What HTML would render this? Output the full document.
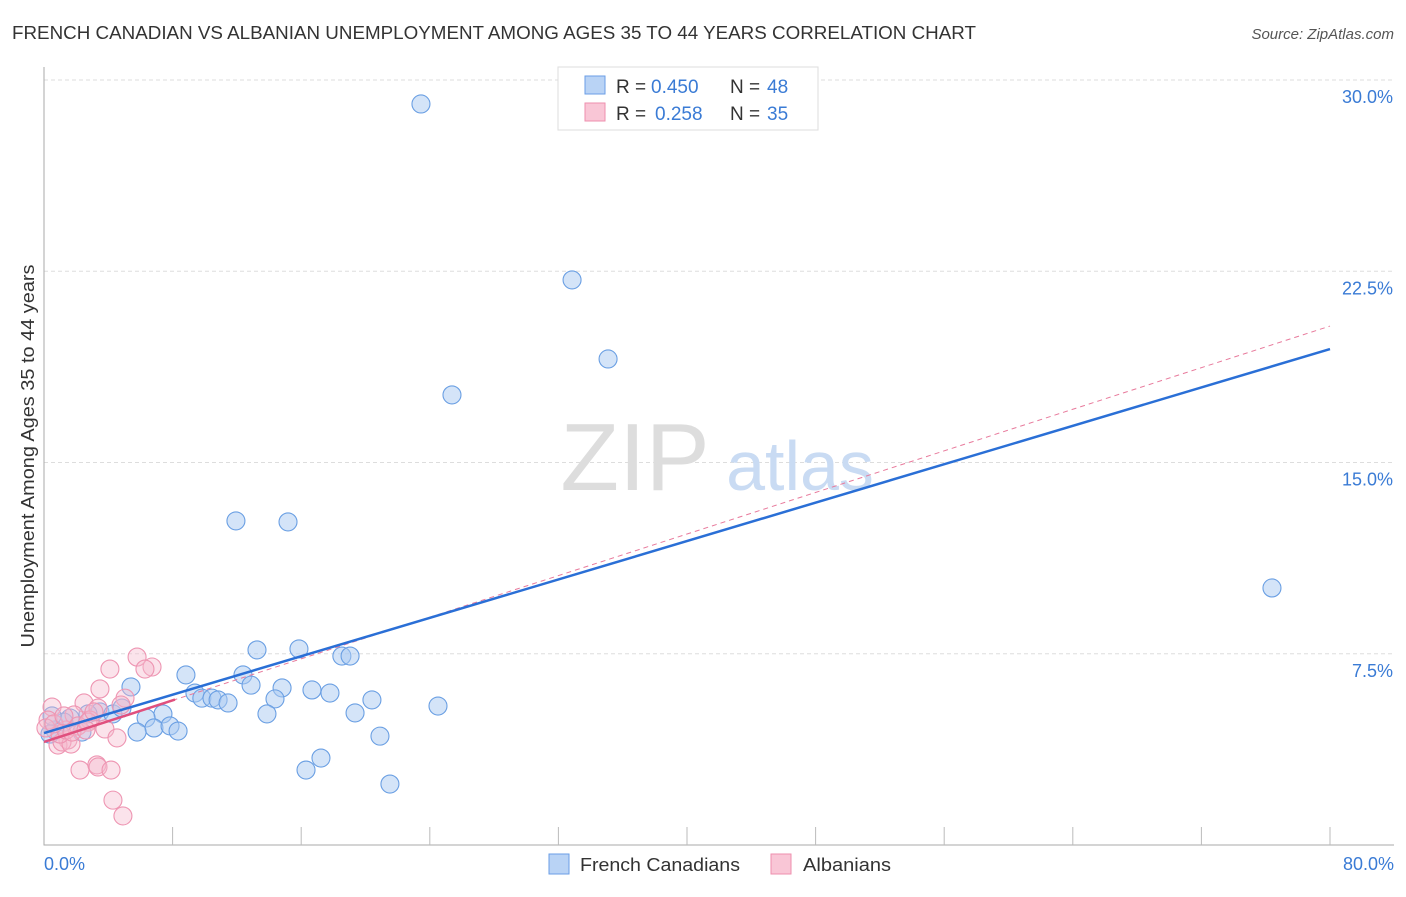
<!DOCTYPE html>
<html><head><meta charset="utf-8"><style>
body{margin:0;background:#fff;font-family:"Liberation Sans",sans-serif;}
svg text{font-family:"Liberation Sans",sans-serif;}
</style></head><body>
<svg width="1406" height="892" viewBox="0 0 1406 892">
<text x="12" y="39" font-size="18" fill="#333" textLength="964" lengthAdjust="spacingAndGlyphs">FRENCH CANADIAN VS ALBANIAN UNEMPLOYMENT AMONG AGES 35 TO 44 YEARS CORRELATION CHART</text>
<text x="1394" y="39" font-size="15" fill="#555" font-style="italic" text-anchor="end">Source: ZipAtlas.com</text>
<g id="grid"></g>
<text x="635" y="490" font-size="96" fill="#ddd" font-family="Liberation Serif" text-anchor="middle">ZIP</text>
<text x="800" y="490" font-size="70" fill="#c9dbf3" text-anchor="middle">atlas</text>
<g id="pts"></g>
<g id="lines"></g>
<text x="34" y="456" font-size="18" fill="#333" text-anchor="middle" textLength="383" lengthAdjust="spacingAndGlyphs" transform="rotate(-90 34 456)">Unemployment Among Ages 35 to 44 years</text>
<text x="44" y="870" font-size="18" fill="#3a7bd5">0.0%</text>
<text x="1394" y="870" font-size="18" fill="#3a7bd5" text-anchor="end">80.0%</text>
<g>
<rect x="558" y="67" width="260" height="63" fill="#fff" stroke="#ddd"/>
<rect x="585" y="76" width="20" height="18" fill="#b9d3f5" stroke="#6a9ee6"/>
<rect x="585" y="103" width="20" height="18" fill="#f9c6d6" stroke="#ee8fae"/>
<text y="93" font-size="19" fill="#333"><tspan x="616">R =</tspan><tspan x="651" fill="#3a7bd5">0.450</tspan><tspan x="730">N =</tspan><tspan x="767" fill="#3a7bd5">48</tspan></text>
<text y="120" font-size="19" fill="#333"><tspan x="616">R =</tspan><tspan x="655" fill="#3a7bd5">0.258</tspan><tspan x="730">N =</tspan><tspan x="767" fill="#3a7bd5">35</tspan></text>
</g>
<g><rect x="549" y="854" width="20" height="20" fill="#b9d3f5" stroke="#6a9ee6"/><text x="580" y="871" font-size="18" fill="#333" textLength="160" lengthAdjust="spacingAndGlyphs">French Canadians</text></g>
<g><rect x="771" y="854" width="20" height="20" fill="#f9c6d6" stroke="#ee8fae"/><text x="803" y="871" font-size="18" fill="#333" textLength="88" lengthAdjust="spacingAndGlyphs">Albanians</text></g>
</svg>
<script>
const yTicks=[7.5,15,22.5,30];
const xTicks=[0,8,16,24,32,40,48,56,64,72,80];
const blueX=[23.45,32.85,35.09,25.38,11.94,15.18,76.39,8.83,12.38,13.25,15.86,18.53,19.04,5.41,9.39,9.82,10.45,10.83,11.45,12.88,14.81,14.37,16.67,17.79,20.4,24.51,13.87,19.35,20.9,17.23,16.3,21.52,7.4,6.35,6.84,7.84,8.34,5.79,3.48,4.29,2.74,1.62,2.36,1.24,0.68,0.37,0.5,4.85];
const blueY=[29.06,22.16,19.06,17.65,12.71,12.67,10.08,6.67,6.67,7.65,7.69,7.41,7.41,6.2,5.96,5.76,5.76,5.69,5.57,6.27,6.16,5.73,6.08,5.96,5.69,5.45,5.14,5.18,4.27,3.41,2.94,2.39,5.14,4.98,4.59,4.67,4.47,4.43,5.22,5.14,5.14,4.98,4.43,4.82,4.51,4.35,5.06,5.37];
const pinkX=[5.79,6.72,6.28,4.1,3.48,5.04,2.49,4.79,0.5,3.36,1.87,2.86,3.79,4.54,1.49,0.87,1.12,1.68,2.24,3.29,3.36,4.17,4.29,4.91,0.25,0.12,1.0,1.37,2.12,2.74,3.11,0.62,1.74,1.24,2.61];
const pinkY=[7.37,6.98,6.9,6.9,6.12,5.76,5.57,5.49,5.41,5.37,5.1,4.9,4.55,4.2,4.12,3.92,4.04,3.96,2.94,3.14,3.06,2.94,1.76,1.14,4.9,4.59,4.35,4.51,4.67,4.82,5.22,4.75,4.43,5.06,4.51];
const blueTrend=[4.39,19.45];
const pinkTrend=[4.04,20.35];
const NS='http://www.w3.org/2000/svg';
const sx=v=>44+v*16.075, sy=v=>845-v*25.5;
function mk(t,a,p){const e=document.createElementNS(NS,t);for(const k in a)e.setAttribute(k,a[k]);document.getElementById(p).appendChild(e);return e;}
yTicks.forEach(v=>{
 const l=mk('line',{x1:44,x2:1394,y1:sy(v),y2:sy(v),stroke:'#ddd','stroke-dasharray':'4,3'},'grid');
 
 
 const t=mk('text',{x:1393,y:sy(v)+23,'font-size':18,fill:'#3a7bd5','text-anchor':'end'},'grid');t.textContent=v.toFixed(1)+'%';
 
 
});
const ax=mk('path',{d:'M44 67V845H1394',stroke:'#aaa',fill:'none'},'grid');


xTicks.forEach(v=>{if(v===0)return;
 const l=mk('line',{x1:sx(v),x2:sx(v),y1:827,y2:845,stroke:'#bbb'},'grid');
 
 
});
blueX.forEach((x,i)=>{const c=mk('circle',{cx:sx(x),cy:sy(blueY[i]),r:9,fill:'rgba(170,202,242,0.5)',stroke:'#6a9fe3','stroke-width':1.1},'pts');
 
 });
pinkX.forEach((x,i)=>{const c=mk('circle',{cx:sx(x),cy:sy(pinkY[i]),r:9,fill:'rgba(246,185,205,0.4)',stroke:'#ee95b2','stroke-width':1.1},'pts');
 
 });
const pv=x=>pinkTrend[0]+(pinkTrend[1]-pinkTrend[0])*x/80;
const d=mk('line',{x1:sx(0),y1:sy(pinkTrend[0]),x2:sx(80),y2:sy(pinkTrend[1]),stroke:'#e87a9c','stroke-width':1,'stroke-dasharray':'5,4'},'lines');


const b=mk('line',{x1:sx(0),y1:sy(blueTrend[0]),x2:sx(80),y2:sy(blueTrend[1]),stroke:'#2a6fd6','stroke-width':2.5},'lines');


const p=mk('line',{x1:sx(0),y1:sy(pv(0)),x2:sx(8.15),y2:sy(pv(8.15)),stroke:'#e0507e','stroke-width':2.5},'lines');


</script>
</body></html>
